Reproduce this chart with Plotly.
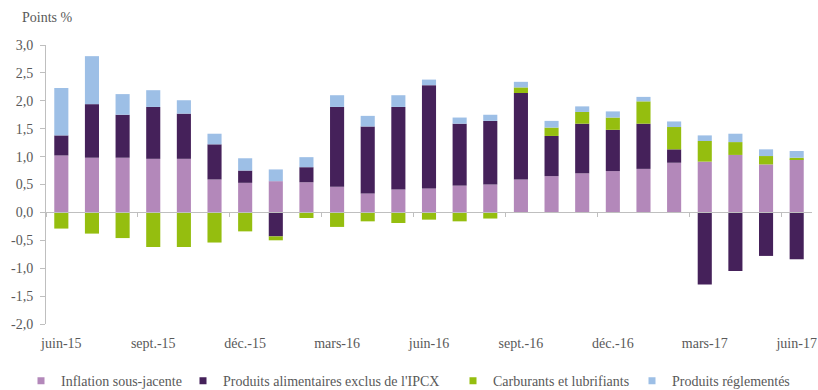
import plotly.graph_objects as go

# Contributions à l'inflation (points de %), juin-15 à juin-17
months = ["juin-15", "juil.-15", "août-15", "sept.-15", "oct.-15", "nov.-15",
          "déc.-15", "janv.-16", "févr.-16", "mars-16", "avr.-16", "mai-16",
          "juin-16", "juil.-16", "août-16", "sept.-16", "oct.-16", "nov.-16",
          "déc.-16", "janv.-17", "févr.-17", "mars-17", "avr.-17", "mai-17",
          "juin-17"]

inflation_sous_jacente = [1.02, 0.98, 0.98, 0.96, 0.96, 0.59, 0.53, 0.56, 0.54,
                          0.46, 0.34, 0.41, 0.43, 0.48, 0.50, 0.59, 0.65, 0.70,
                          0.74, 0.78, 0.89, 0.91, 1.03, 0.86, 0.95]
produits_alimentaires = [0.36, 0.96, 0.77, 0.93, 0.81, 0.63, 0.22, -0.43, 0.27,
                         1.43, 1.20, 1.48, 1.85, 1.11, 1.14, 1.55, 0.72, 0.89,
                         0.74, 0.81, 0.24, -1.29, -1.05, -0.78, -0.84]
carburants = [-0.29, -0.38, -0.46, -0.62, -0.62, -0.54, -0.34, -0.07, -0.10,
              -0.26, -0.16, -0.19, -0.13, -0.16, -0.11, 0.10, 0.15, 0.21,
              0.22, 0.40, 0.40, 0.37, 0.23, 0.15, 0.03]
produits_reglementes = [0.85, 0.86, 0.37, 0.30, 0.24, 0.19, 0.22, 0.21, 0.18,
                        0.21, 0.19, 0.21, 0.10, 0.11, 0.11, 0.10, 0.12, 0.10,
                        0.11, 0.08, 0.10, 0.10, 0.15, 0.12, 0.12]

x_label_step = 3
y_tick_values = [3.0, 2.5, 2.0, 1.5, 1.0, 0.5, 0.0, -0.5, -1.0, -1.5, -2.0]
y_tick_labels = ["3,0", "2,5", "2,0", "1,5", "1,0", "0,5", "0,0",
                 "-0,5", "-1,0", "-1,5", "-2,0"]

series = [
    ("Inflation sous-jacente", inflation_sous_jacente, "#B388BA"),
    ("Produits alimentaires exclus de l'IPCX", produits_alimentaires, "#45215A"),
    ("Carburants et lubrifiants", carburants, "#95BE0F"),
    ("Produits réglementés", produits_reglementes, "#9DBFE6"),
]

FONT = "Liberation Serif"
TEXT = "#595959"
AXIS = "#BFBFBF"

idx = list(range(len(months)))
fig = go.Figure()

for name, values, color in series:
    fig.add_trace(go.Bar(x=idx, y=values, name=name, marker_color=color,
                         marker_line_width=0, showlegend=False))

# Legend keys: one small square per series, each in its own legend box
legend_ids = ["legend", "legend2", "legend3", "legend4"]
legend_px = [21, 183, 453, 632]
left, right = 46, 6
plot_w = 818 - left - right
for (name, values, color), lid in zip(series, legend_ids):
    fig.add_trace(go.Scatter(x=[None], y=[None], mode="markers", name=name,
                             marker=dict(symbol="square", size=7, color=color),
                             legend=lid, hoverinfo="skip"))

# Overlay axis that draws the zero line with its tick marks
fig.add_trace(go.Scatter(x=[None], y=[None], xaxis="x2", showlegend=False,
                         hoverinfo="skip"))

xr = [-0.5, len(months) - 0.5]
layout_legends = {}
for lid, px in zip(legend_ids, legend_px):
    layout_legends[lid] = dict(
        x=(px - left) / plot_w, xanchor="left",
        y=-0.205, yanchor="middle", orientation="h",
        font=dict(family=FONT, size=14, color=TEXT),
        bgcolor="rgba(0,0,0,0)", itemwidth=30,
    )

fig.update_layout(
    width=818, height=390,
    margin=dict(l=left, r=right, t=45, b=66, autoexpand=False),
    plot_bgcolor="white", paper_bgcolor="white",
    barmode="relative", bargap=0.54,
    font=dict(family=FONT, size=14, color=TEXT),
    title=dict(text="Points %", x=22 / 818, xanchor="left",
               y=1 - 17 / 390, yanchor="middle",
               font=dict(family=FONT, size=14, color=TEXT)),
    xaxis=dict(range=xr, tickmode="array",
               tickvals=idx[::x_label_step], ticktext=months[::x_label_step],
               showline=False, showgrid=False, zeroline=False, ticks="",
               ticklabelstandoff=9, tickfont=dict(size=14)),
    xaxis2=dict(range=xr, overlaying="x", anchor="free", position=0.4,
                showline=True, linecolor=AXIS, linewidth=1,
                tickmode="array",
                tickvals=[i - 0.5 for i in idx[::x_label_step]],
                ticks="outside", ticklen=4, tickcolor=AXIS,
                showticklabels=False, showgrid=False, zeroline=False),
    yaxis=dict(range=[-2, 3], tickmode="array", tickvals=y_tick_values,
               ticktext=y_tick_labels, showline=True, linecolor=AXIS,
               ticks="outside", ticklen=5, tickcolor=AXIS,
               ticklabelstandoff=4,
               showgrid=False, zeroline=False, tickfont=dict(size=14)),
    **layout_legends,
)

fig.write_html("out.html")
